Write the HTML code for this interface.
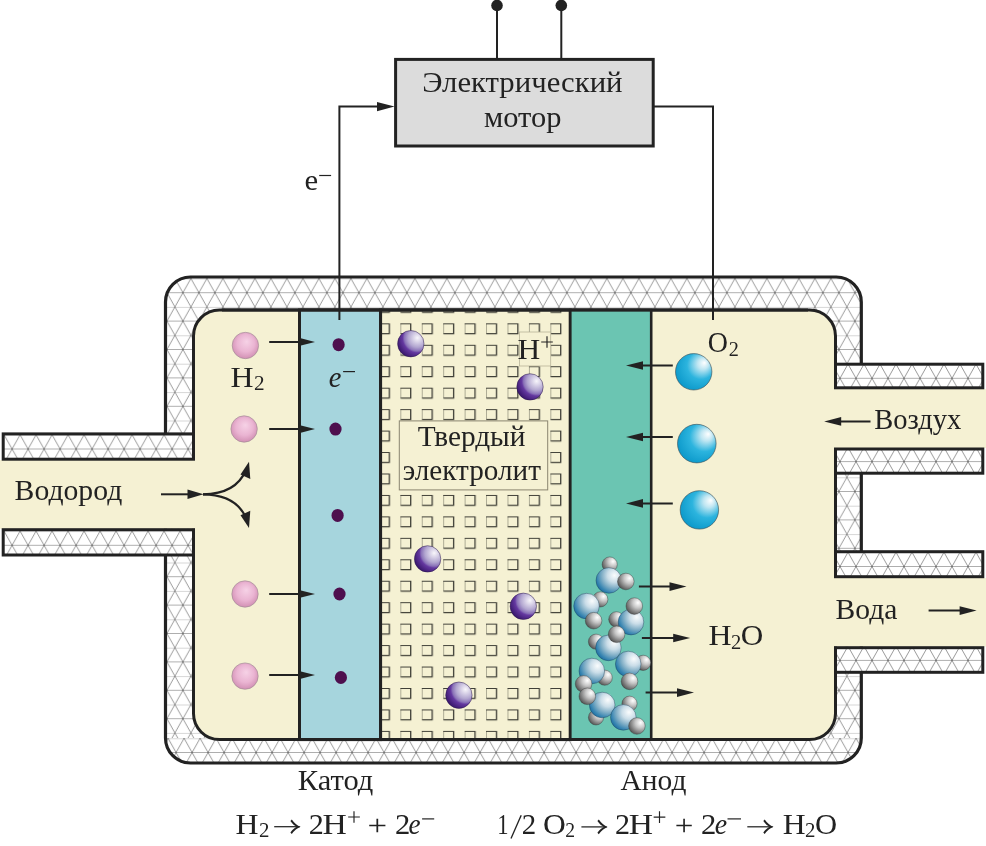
<!DOCTYPE html>
<html><head><meta charset="utf-8"><style>
html,body{margin:0;padding:0;background:#fff;}
svg{display:block;will-change:transform;}
text{-webkit-font-smoothing:antialiased;}
text{font-family:"Liberation Serif",serif;fill:#222222;}
</style></head><body>
<svg width="986" height="846" viewBox="0 0 986 846">
<defs>

<pattern id="hA" patternUnits="userSpaceOnUse" width="16" height="28.4" patternTransform="translate(206.9 278.5)"><rect width="16" height="28.4" fill="#fff"/><line x1="0" y1="0" x2="16" y2="0" stroke="#a6a6a6" stroke-width="0.9"/><line x1="0" y1="14.2" x2="16" y2="14.2" stroke="#a6a6a6" stroke-width="0.9"/><line x1="0" y1="0" x2="16" y2="28.4" stroke="#333" stroke-width="0.5"/><line x1="16" y1="0" x2="0" y2="28.4" stroke="#333" stroke-width="0.5"/><line x1="-16" y1="0" x2="0" y2="28.4" stroke="#333" stroke-width="0.5"/><line x1="16" y1="0" x2="32" y2="28.4" stroke="#333" stroke-width="0.5"/></pattern>
<pattern id="hP1" patternUnits="userSpaceOnUse" width="16" height="28.4" patternTransform="translate(4.1 434.8)"><rect width="16" height="28.4" fill="#fff"/><line x1="0" y1="0" x2="16" y2="0" stroke="#a6a6a6" stroke-width="0.9"/><line x1="0" y1="14.2" x2="16" y2="14.2" stroke="#a6a6a6" stroke-width="0.9"/><line x1="0" y1="0" x2="16" y2="28.4" stroke="#333" stroke-width="0.5"/><line x1="16" y1="0" x2="0" y2="28.4" stroke="#333" stroke-width="0.5"/><line x1="-16" y1="0" x2="0" y2="28.4" stroke="#333" stroke-width="0.5"/><line x1="16" y1="0" x2="32" y2="28.4" stroke="#333" stroke-width="0.5"/></pattern>
<pattern id="hP2" patternUnits="userSpaceOnUse" width="16" height="28.4" patternTransform="translate(4.1 531.0999999999999)"><rect width="16" height="28.4" fill="#fff"/><line x1="0" y1="0" x2="16" y2="0" stroke="#a6a6a6" stroke-width="0.9"/><line x1="0" y1="14.2" x2="16" y2="14.2" stroke="#a6a6a6" stroke-width="0.9"/><line x1="0" y1="0" x2="16" y2="28.4" stroke="#333" stroke-width="0.5"/><line x1="16" y1="0" x2="0" y2="28.4" stroke="#333" stroke-width="0.5"/><line x1="-16" y1="0" x2="0" y2="28.4" stroke="#333" stroke-width="0.5"/><line x1="16" y1="0" x2="32" y2="28.4" stroke="#333" stroke-width="0.5"/></pattern>
<pattern id="hR1" patternUnits="userSpaceOnUse" width="16" height="28.4" patternTransform="translate(0 364.1)"><rect width="16" height="28.4" fill="#fff"/><line x1="0" y1="0" x2="16" y2="0" stroke="#a6a6a6" stroke-width="0.9"/><line x1="0" y1="14.2" x2="16" y2="14.2" stroke="#a6a6a6" stroke-width="0.9"/><line x1="0" y1="0" x2="16" y2="28.4" stroke="#333" stroke-width="0.5"/><line x1="16" y1="0" x2="0" y2="28.4" stroke="#333" stroke-width="0.5"/><line x1="-16" y1="0" x2="0" y2="28.4" stroke="#333" stroke-width="0.5"/><line x1="16" y1="0" x2="32" y2="28.4" stroke="#333" stroke-width="0.5"/></pattern>
<pattern id="hR2" patternUnits="userSpaceOnUse" width="16" height="28.4" patternTransform="translate(0 447.40000000000003)"><rect width="16" height="28.4" fill="#fff"/><line x1="0" y1="0" x2="16" y2="0" stroke="#a6a6a6" stroke-width="0.9"/><line x1="0" y1="14.2" x2="16" y2="14.2" stroke="#a6a6a6" stroke-width="0.9"/><line x1="0" y1="0" x2="16" y2="28.4" stroke="#333" stroke-width="0.5"/><line x1="16" y1="0" x2="0" y2="28.4" stroke="#333" stroke-width="0.5"/><line x1="-16" y1="0" x2="0" y2="28.4" stroke="#333" stroke-width="0.5"/><line x1="16" y1="0" x2="32" y2="28.4" stroke="#333" stroke-width="0.5"/></pattern>
<pattern id="hR3" patternUnits="userSpaceOnUse" width="16" height="28.4" patternTransform="translate(0 552.3)"><rect width="16" height="28.4" fill="#fff"/><line x1="0" y1="0" x2="16" y2="0" stroke="#a6a6a6" stroke-width="0.9"/><line x1="0" y1="14.2" x2="16" y2="14.2" stroke="#a6a6a6" stroke-width="0.9"/><line x1="0" y1="0" x2="16" y2="28.4" stroke="#333" stroke-width="0.5"/><line x1="16" y1="0" x2="0" y2="28.4" stroke="#333" stroke-width="0.5"/><line x1="-16" y1="0" x2="0" y2="28.4" stroke="#333" stroke-width="0.5"/><line x1="16" y1="0" x2="32" y2="28.4" stroke="#333" stroke-width="0.5"/></pattern>
<pattern id="hR4" patternUnits="userSpaceOnUse" width="16" height="28.4" patternTransform="translate(0 646.1999999999999)"><rect width="16" height="28.4" fill="#fff"/><line x1="0" y1="0" x2="16" y2="0" stroke="#a6a6a6" stroke-width="0.9"/><line x1="0" y1="14.2" x2="16" y2="14.2" stroke="#a6a6a6" stroke-width="0.9"/><line x1="0" y1="0" x2="16" y2="28.4" stroke="#333" stroke-width="0.5"/><line x1="16" y1="0" x2="0" y2="28.4" stroke="#333" stroke-width="0.5"/><line x1="-16" y1="0" x2="0" y2="28.4" stroke="#333" stroke-width="0.5"/><line x1="16" y1="0" x2="32" y2="28.4" stroke="#333" stroke-width="0.5"/></pattern>
<pattern id="hB" patternUnits="userSpaceOnUse" width="16" height="28.4" patternTransform="translate(440.1 738.3)"><rect width="16" height="28.4" fill="#fff"/><line x1="0" y1="0" x2="16" y2="0" stroke="#a6a6a6" stroke-width="0.9"/><line x1="0" y1="14.2" x2="16" y2="14.2" stroke="#a6a6a6" stroke-width="0.9"/><line x1="0" y1="0" x2="16" y2="28.4" stroke="#333" stroke-width="0.5"/><line x1="16" y1="0" x2="0" y2="28.4" stroke="#333" stroke-width="0.5"/><line x1="-16" y1="0" x2="0" y2="28.4" stroke="#333" stroke-width="0.5"/><line x1="16" y1="0" x2="32" y2="28.4" stroke="#333" stroke-width="0.5"/></pattern>
<pattern id="sq" patternUnits="userSpaceOnUse" width="21.43" height="21.45" patternTransform="translate(378.9 301.9)"><rect width="21.43" height="21.45" fill="#f5f1d3"/><path d="M0.3,0.3 V10.4" fill="none" stroke="#aaa892" stroke-width="1.3"/><path d="M-0.3,0.3 H10.4 V10.4 H0.3" fill="none" stroke="#3e3e36" stroke-width="1.3"/></pattern>
<radialGradient id="gPink" cx="50%" cy="45%" r="55%" fx="55%" fy="35%">
<stop offset="0" stop-color="#f6d2e6"/><stop offset="0.6" stop-color="#eab4d2"/><stop offset="1" stop-color="#d290b4"/></radialGradient>
<radialGradient id="gPur" cx="75%" cy="28%" r="88%" fx="75%" fy="28%">
<stop offset="0" stop-color="#f8f6fb"/><stop offset="0.4" stop-color="#b2a6d0"/><stop offset="0.56" stop-color="#8a72b8"/><stop offset="0.64" stop-color="#6438a0"/><stop offset="1" stop-color="#2e0e60"/></radialGradient>
<radialGradient id="gCyan" cx="62%" cy="38%" r="70%" fx="80%" fy="25%">
<stop offset="0" stop-color="#ffffff"/><stop offset="0.22" stop-color="#bfe6f2"/><stop offset="0.55" stop-color="#2cb4de"/><stop offset="1" stop-color="#0896c8"/></radialGradient>
<radialGradient id="gO" cx="72%" cy="30%" r="90%" fx="72%" fy="30%">
<stop offset="0" stop-color="#fafcfd"/><stop offset="0.3" stop-color="#cadde8"/><stop offset="0.55" stop-color="#80aec6"/><stop offset="0.78" stop-color="#3382b0"/><stop offset="1" stop-color="#0a5a92"/></radialGradient>
<radialGradient id="gH" cx="72%" cy="30%" r="90%" fx="72%" fy="30%">
<stop offset="0" stop-color="#ffffff"/><stop offset="0.35" stop-color="#c6c6c6"/><stop offset="0.7" stop-color="#787878"/><stop offset="1" stop-color="#383838"/></radialGradient>
<marker id="ah" viewBox="0 0 16 10" refX="16" refY="5" markerWidth="16" markerHeight="10" markerUnits="userSpaceOnUse" orient="auto"><path d="M0,0 L16,5 L0,10 L4,5 Z" fill="#222222"/></marker>
</defs>

<rect width="986" height="846" fill="#fff"/>
<clipPath id="cOut"><rect x="165.5" y="277" width="695.8" height="486" rx="25" ry="25"/></clipPath>
<rect x="165.5" y="277" width="695.8" height="486" rx="25" ry="25" fill="url(#hA)"/>
<rect x="160" y="738" width="706" height="30" fill="url(#hB)" clip-path="url(#cOut)"/>
<rect x="165.5" y="277" width="695.8" height="486" rx="25" ry="25" fill="none" stroke="#222222" stroke-width="3.2"/>
<rect x="193.5" y="310" width="642" height="429.6" rx="26" ry="26" fill="#f5f1d3" stroke="#222222" stroke-width="3"/>
<rect x="299.5" y="310" width="81.1" height="429.6" fill="#a6d5dd" stroke="#222222" stroke-width="3"/>
<rect x="380.6" y="310" width="189.6" height="429.6" fill="url(#sq)" stroke="#222222" stroke-width="3"/>
<rect x="570.3" y="310" width="80.9" height="429.6" fill="#6bc5b2" stroke="#222222" stroke-width="2.6"/>
<line x1="222" y1="310" x2="808" y2="310" stroke="#222222" stroke-width="3"/>
<line x1="222" y1="739.6" x2="808" y2="739.6" stroke="#222222" stroke-width="3"/>
<rect x="0" y="460" width="196" height="68.8" fill="#f5f1d3"/>
<rect x="833" y="389" width="153" height="59" fill="#f5f1d3"/>
<rect x="833" y="578" width="153" height="68.6" fill="#f5f1d3"/>
<rect x="3.2" y="433.9" width="190.3" height="25.30000000000001" fill="url(#hP1)" stroke="#222222" stroke-width="3"/>
<rect x="3.2" y="529.7" width="190.3" height="25.299999999999955" fill="url(#hP2)" stroke="#222222" stroke-width="3"/>
<rect x="835.5" y="364.2" width="147.29999999999995" height="23.600000000000023" fill="url(#hR1)" stroke="#222222" stroke-width="3"/>
<rect x="835.5" y="449.0" width="147.29999999999995" height="24.19999999999999" fill="url(#hR2)" stroke="#222222" stroke-width="3"/>
<rect x="835.5" y="551.7" width="147.29999999999995" height="25.0" fill="url(#hR3)" stroke="#222222" stroke-width="3"/>
<rect x="835.5" y="647.7" width="147.29999999999995" height="24.59999999999991" fill="url(#hR4)" stroke="#222222" stroke-width="3"/>
<rect x="395.6" y="59.4" width="257.6" height="86.6" fill="#dcdcdc" stroke="#222222" stroke-width="3"/>
<line x1="497" y1="6" x2="497" y2="59" stroke="#222222" stroke-width="2"/><circle cx="497" cy="5.5" r="5.8" fill="#222222"/>
<line x1="561.3" y1="6" x2="561.3" y2="59" stroke="#222222" stroke-width="2"/><circle cx="561.3" cy="5.5" r="5.8" fill="#222222"/>
<polyline points="339.4,320 339.4,106.6 380,106.6" fill="none" stroke="#222222" stroke-width="2"/>
<path d="M377,102 L394.5,106.6 L377,111.2 Z" fill="#222222"/>
<polyline points="654,106.6 713,106.6 713,320" fill="none" stroke="#222222" stroke-width="2"/>
<line x1="269.2" y1="341.9" x2="304.8" y2="341.9" stroke="#222222" stroke-width="2"/>
<path d="M298,337.59999999999997 L315,341.9 L298,346.2 Z" fill="#222222"/>
<line x1="269.2" y1="429.1" x2="304.8" y2="429.1" stroke="#222222" stroke-width="2"/>
<path d="M298,424.8 L315,429.1 L298,433.40000000000003 Z" fill="#222222"/>
<line x1="269.2" y1="594" x2="304.8" y2="594" stroke="#222222" stroke-width="2"/>
<path d="M298,589.7 L315,594 L298,598.3 Z" fill="#222222"/>
<line x1="269.2" y1="675.1" x2="304.8" y2="675.1" stroke="#222222" stroke-width="2"/>
<path d="M298,670.8000000000001 L315,675.1 L298,679.4 Z" fill="#222222"/>
<ellipse cx="338.6" cy="344.7" rx="6.1" ry="6.5" fill="#4e0f4e"/>
<ellipse cx="335.5" cy="429.1" rx="6.1" ry="6.5" fill="#4e0f4e"/>
<ellipse cx="337.6" cy="515.4" rx="6.1" ry="6.5" fill="#4e0f4e"/>
<ellipse cx="339.5" cy="594" rx="6.1" ry="6.5" fill="#4e0f4e"/>
<ellipse cx="340.9" cy="677.5" rx="6.1" ry="6.5" fill="#4e0f4e"/>
<circle cx="245.4" cy="345.5" r="13.2" fill="url(#gPink)" stroke="#9a8a90" stroke-width="0.6"/>
<circle cx="244.1" cy="429" r="13.2" fill="url(#gPink)" stroke="#9a8a90" stroke-width="0.6"/>
<circle cx="245" cy="594" r="13.2" fill="url(#gPink)" stroke="#9a8a90" stroke-width="0.6"/>
<circle cx="245" cy="676.1" r="13.2" fill="url(#gPink)" stroke="#9a8a90" stroke-width="0.6"/>
<line x1="672.8" y1="365.5" x2="636.2" y2="365.5" stroke="#222222" stroke-width="2"/>
<path d="M643,361.2 L626,365.5 L643,369.8 Z" fill="#222222"/>
<line x1="672.8" y1="437" x2="636.2" y2="437" stroke="#222222" stroke-width="2"/>
<path d="M643,432.7 L626,437 L643,441.3 Z" fill="#222222"/>
<line x1="672.8" y1="503.4" x2="636.2" y2="503.4" stroke="#222222" stroke-width="2"/>
<path d="M643,499.09999999999997 L626,503.4 L643,507.7 Z" fill="#222222"/>
<circle cx="693.7" cy="371.8" r="18.2" fill="url(#gCyan)" stroke="#3a4a50" stroke-width="0.6"/>
<circle cx="696.8" cy="443.6" r="19.3" fill="url(#gCyan)" stroke="#3a4a50" stroke-width="0.6"/>
<circle cx="699.4" cy="509.9" r="19.2" fill="url(#gCyan)" stroke="#3a4a50" stroke-width="0.6"/>
<rect x="519.4" y="332" width="31.3" height="34" fill="#f5f1d3" stroke="#b8b49a" stroke-width="0.8"/>
<circle cx="410.8" cy="343.7" r="13.2" fill="url(#gPur)" stroke="#2a1848" stroke-width="0.5"/>
<circle cx="530" cy="386.9" r="13.2" fill="url(#gPur)" stroke="#2a1848" stroke-width="0.5"/>
<circle cx="427.6" cy="558.9" r="13.2" fill="url(#gPur)" stroke="#2a1848" stroke-width="0.5"/>
<circle cx="523.3" cy="606.3" r="13.2" fill="url(#gPur)" stroke="#2a1848" stroke-width="0.5"/>
<circle cx="458.9" cy="695.2" r="13.2" fill="url(#gPur)" stroke="#2a1848" stroke-width="0.5"/>
<rect x="399.3" y="420.9" width="148.4" height="69" fill="#f5f1d3" stroke="#8a8570" stroke-width="1"/>
<circle cx="609.7" cy="564.5" r="7.6" fill="url(#gH)" stroke="#333" stroke-width="0.4"/>
<circle cx="608.8" cy="580.5" r="12.8" fill="url(#gO)" stroke="#1a3a50" stroke-width="0.4"/>
<circle cx="625.8" cy="581.5" r="8.3" fill="url(#gH)" stroke="#333" stroke-width="0.4"/>
<circle cx="600.3" cy="599.4" r="7.6" fill="url(#gH)" stroke="#333" stroke-width="0.4"/>
<circle cx="586.5" cy="606.1" r="12.8" fill="url(#gO)" stroke="#1a3a50" stroke-width="0.4"/>
<circle cx="593.6" cy="620.7" r="8.3" fill="url(#gH)" stroke="#333" stroke-width="0.4"/>
<circle cx="616.3" cy="619.3" r="7.6" fill="url(#gH)" stroke="#333" stroke-width="0.4"/>
<circle cx="631" cy="622.1" r="12.8" fill="url(#gO)" stroke="#1a3a50" stroke-width="0.4"/>
<circle cx="634.3" cy="606.1" r="8.3" fill="url(#gH)" stroke="#333" stroke-width="0.4"/>
<circle cx="596" cy="641.7" r="7.6" fill="url(#gH)" stroke="#333" stroke-width="0.4"/>
<circle cx="608.4" cy="647.9" r="12.8" fill="url(#gO)" stroke="#1a3a50" stroke-width="0.4"/>
<circle cx="616.6" cy="634.3" r="8.3" fill="url(#gH)" stroke="#333" stroke-width="0.4"/>
<circle cx="643.1" cy="662.8" r="7.6" fill="url(#gH)" stroke="#333" stroke-width="0.4"/>
<circle cx="628.2" cy="664" r="12.8" fill="url(#gO)" stroke="#1a3a50" stroke-width="0.4"/>
<circle cx="629.5" cy="681.4" r="8.3" fill="url(#gH)" stroke="#333" stroke-width="0.4"/>
<circle cx="604.7" cy="677.7" r="7.6" fill="url(#gH)" stroke="#333" stroke-width="0.4"/>
<circle cx="591.8" cy="671" r="12.8" fill="url(#gO)" stroke="#1a3a50" stroke-width="0.4"/>
<circle cx="583.6" cy="683.9" r="8.3" fill="url(#gH)" stroke="#333" stroke-width="0.4"/>
<circle cx="596" cy="717.4" r="7.6" fill="url(#gH)" stroke="#333" stroke-width="0.4"/>
<circle cx="602.2" cy="705" r="12.8" fill="url(#gO)" stroke="#1a3a50" stroke-width="0.4"/>
<circle cx="587.3" cy="696.3" r="8.3" fill="url(#gH)" stroke="#333" stroke-width="0.4"/>
<circle cx="629.5" cy="703.7" r="7.6" fill="url(#gH)" stroke="#333" stroke-width="0.4"/>
<circle cx="623.3" cy="717.4" r="12.8" fill="url(#gO)" stroke="#1a3a50" stroke-width="0.4"/>
<circle cx="636.9" cy="726" r="8.3" fill="url(#gH)" stroke="#333" stroke-width="0.4"/>
<line x1="638.9" y1="586.6" x2="676.3" y2="586.6" stroke="#222222" stroke-width="2"/>
<path d="M669.5,582.3000000000001 L686.5,586.6 L669.5,590.9 Z" fill="#222222"/>
<line x1="641.9" y1="638" x2="680.0" y2="638" stroke="#222222" stroke-width="2"/>
<path d="M673.2,633.7 L690.2,638 L673.2,642.3 Z" fill="#222222"/>
<line x1="645.6" y1="692.6" x2="683.8" y2="692.6" stroke="#222222" stroke-width="2"/>
<path d="M677,688.3000000000001 L694,692.6 L677,696.9 Z" fill="#222222"/>
<line x1="161" y1="494.3" x2="192" y2="494.3" stroke="#222222" stroke-width="2"/>
<path d="M187.5,489.6 L203.5,494.3 L187.5,499 Z" fill="#222222"/>
<path d="M203,494.3 Q236,494 246,470" fill="none" stroke="#222222" stroke-width="2.2"/>
<path d="M203,494.3 Q236,494.6 246,518" fill="none" stroke="#222222" stroke-width="2.2"/>
<path d="M249,461.8 L250.3,479 L240.5,474.5 Z" fill="#222222"/>
<path d="M249,527.9 L250.3,510.7 L240.5,515.2 Z" fill="#222222"/>
<line x1="870.5" y1="421.4" x2="834.4000000000001" y2="421.4" stroke="#222222" stroke-width="2"/>
<path d="M841.2,417.09999999999997 L824.2,421.4 L841.2,425.7 Z" fill="#222222"/>
<line x1="928.6" y1="610.6" x2="966.4" y2="610.6" stroke="#222222" stroke-width="2"/>
<path d="M959.6,606.3000000000001 L976.6,610.6 L959.6,614.9 Z" fill="#222222"/>
<text x="235.40" y="833.8" font-size="29.3" textLength="23.00" lengthAdjust="spacingAndGlyphs">H</text>
<text x="259.01" y="837" font-size="20.5" textLength="10.44" lengthAdjust="spacingAndGlyphs">2</text>
<line x1="274.2" y1="826.7" x2="299.6" y2="826.7" stroke="#222222" stroke-width="1.25"/>
<path d="M291.8,819.4000000000001 Q295.6,824.9000000000001 300.6,826.7 Q295.6,828.5 291.8,834.0 L290.40000000000003,832.5 Q294.0,827.6 297.0,826.7 Q294.0,825.8000000000001 290.40000000000003,820.9000000000001 Z" fill="#222222"/>
<text x="308.66" y="833.8" font-size="29.3" textLength="15.06" lengthAdjust="spacingAndGlyphs">2</text>
<text x="322.45" y="833.8" font-size="29.3" textLength="24.31" lengthAdjust="spacingAndGlyphs">H</text>
<path d="M348.15,817 H359.85 M354,811.15 V822.85" stroke="#222222" stroke-width="1.15" fill="none"/>
<text x="367.58" y="834.5" font-size="29.3" textLength="19.61" lengthAdjust="spacingAndGlyphs">+</text>
<text x="395.04" y="833.8" font-size="29.3" textLength="15.31" lengthAdjust="spacingAndGlyphs">2</text>
<text x="408.53" y="833.8" font-size="29.3" textLength="12.08" lengthAdjust="spacingAndGlyphs" font-style="italic">e</text>
<line x1="422.1" y1="818.9" x2="434.2" y2="818.9" stroke="#222222" stroke-width="1.2"/>
<text x="497.32" y="834.1" font-size="29.3" textLength="11.27" lengthAdjust="spacingAndGlyphs">1</text>
<line x1="511" y1="838.6" x2="521.2" y2="815.2" stroke="#222222" stroke-width="1.35"/>
<text x="521.82" y="834.1" font-size="29.3" textLength="14.44" lengthAdjust="spacingAndGlyphs">2</text>
<text x="543.00" y="834.1" font-size="29.3" textLength="22.80" lengthAdjust="spacingAndGlyphs">O</text>
<text x="565.36" y="837.3" font-size="20.5" textLength="9.82" lengthAdjust="spacingAndGlyphs">2</text>
<line x1="581.4" y1="826.9" x2="606.6" y2="826.9" stroke="#222222" stroke-width="1.25"/>
<path d="M598.8000000000001,819.6 Q602.6,825.1 607.6,826.9 Q602.6,828.6999999999999 598.8000000000001,834.1999999999999 L597.4,832.6999999999999 Q601.0,827.8 604.0,826.9 Q601.0,826.0 597.4,821.1 Z" fill="#222222"/>
<text x="614.96" y="834.1" font-size="29.3" textLength="15.06" lengthAdjust="spacingAndGlyphs">2</text>
<text x="628.65" y="834.1" font-size="29.3" textLength="24.31" lengthAdjust="spacingAndGlyphs">H</text>
<path d="M653.65,817.1 H665.35 M659.5,811.25 V822.95" stroke="#222222" stroke-width="1.15" fill="none"/>
<text x="674.76" y="834.8" font-size="29.3" textLength="18.65" lengthAdjust="spacingAndGlyphs">+</text>
<text x="701.14" y="834.1" font-size="29.3" textLength="15.31" lengthAdjust="spacingAndGlyphs">2</text>
<text x="714.71" y="834.1" font-size="29.3" textLength="12.42" lengthAdjust="spacingAndGlyphs" font-style="italic">e</text>
<line x1="727.5" y1="818.9" x2="741" y2="818.9" stroke="#222222" stroke-width="1.2"/>
<line x1="747.3" y1="826.8" x2="772.5" y2="826.8" stroke="#222222" stroke-width="1.25"/>
<path d="M764.7,819.5 Q768.5,825.0 773.5,826.8 Q768.5,828.5999999999999 764.7,834.0999999999999 L763.3,832.5999999999999 Q766.9,827.6999999999999 769.9,826.8 Q766.9,825.9 763.3,821.0 Z" fill="#222222"/>
<text x="782.81" y="834.1" font-size="29.3" textLength="22.89" lengthAdjust="spacingAndGlyphs">H</text>
<text x="804.91" y="837.3" font-size="20.5" textLength="10.44" lengthAdjust="spacingAndGlyphs">2</text>
<text x="815.14" y="834.1" font-size="29.3" textLength="22.12" lengthAdjust="spacingAndGlyphs">O</text>
<text x="304.51" y="189.9" font-size="29" textLength="13.65" lengthAdjust="spacingAndGlyphs">e</text>
<line x1="319.2" y1="175.5" x2="331.1" y2="175.5" stroke="#222222" stroke-width="1.2"/>
<text x="230.52" y="386.7" font-size="28.5" textLength="23.01" lengthAdjust="spacingAndGlyphs">H</text>
<text x="254.07" y="390" font-size="20" textLength="10.62" lengthAdjust="spacingAndGlyphs">2</text>
<text x="328.74" y="386.6" font-size="29" textLength="12.67" lengthAdjust="spacingAndGlyphs" font-style="italic">e</text>
<line x1="343.1" y1="371.6" x2="355" y2="371.6" stroke="#222222" stroke-width="1.2"/>
<text x="517.45" y="358.5" font-size="29" textLength="22.74" lengthAdjust="spacingAndGlyphs">H</text>
<path d="M541.2,342 H552.8 M547,336.2 V347.8" stroke="#222222" stroke-width="1.15" fill="none"/>
<text x="707.80" y="351.5" font-size="28.5" textLength="20.19" lengthAdjust="spacingAndGlyphs">O</text>
<text x="728.81" y="356" font-size="20" textLength="10.12" lengthAdjust="spacingAndGlyphs">2</text>
<text x="708.44" y="644.7" font-size="29" textLength="23.06" lengthAdjust="spacingAndGlyphs">H</text>
<text x="731.10" y="648.8" font-size="20" textLength="10.25" lengthAdjust="spacingAndGlyphs">2</text>
<text x="740.86" y="644.5" font-size="29" textLength="22.53" lengthAdjust="spacingAndGlyphs">O</text>
<text x="422.17" y="92.0" font-size="29.8" textLength="200.38" lengthAdjust="spacingAndGlyphs">Электрический</text>
<text x="484.01" y="126.8" font-size="29.8" textLength="77.41" lengthAdjust="spacingAndGlyphs">мотор</text>
<text x="14.59" y="500" font-size="29.6" textLength="107.71" lengthAdjust="spacingAndGlyphs">Водород</text>
<text x="417.84" y="445.6" font-size="28.8" textLength="107.64" lengthAdjust="spacingAndGlyphs">Твердый</text>
<text x="402.79" y="480.3" font-size="29" textLength="138.12" lengthAdjust="spacingAndGlyphs">электролит</text>
<text x="874.28" y="428.8" font-size="28.8" textLength="87.03" lengthAdjust="spacingAndGlyphs">Воздух</text>
<text x="835.56" y="618.8" font-size="29.2" textLength="61.82" lengthAdjust="spacingAndGlyphs">Вода</text>
<text x="297.74" y="789.8" font-size="29.3" textLength="75.58" lengthAdjust="spacingAndGlyphs">Катод</text>
<text x="620.60" y="789.6" font-size="29.3" textLength="65.82" lengthAdjust="spacingAndGlyphs">Анод</text>
</svg></body></html>
